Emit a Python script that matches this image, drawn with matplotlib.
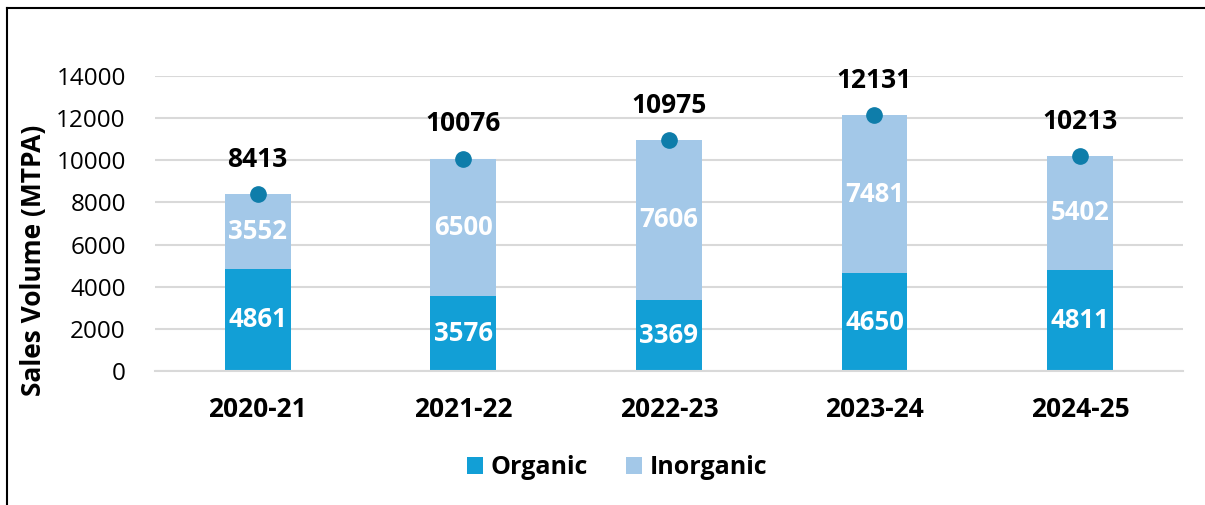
import numpy as np
import matplotlib
matplotlib.use('Agg')
import matplotlib.pyplot as plt
from matplotlib.lines import Line2D

years = ['2020-21', '2021-22', '2022-23', '2023-24', '2024-25']
organic = [4861, 3576, 3369, 4650, 4811]
inorganic = [3552, 6500, 7606, 7481, 5402]
totals = [8413, 10076, 10975, 12131, 10213]
yticks = [0, 2000, 4000, 6000, 8000, 10000, 12000, 14000]

plt.rcParams['font.family'] = ['Open Sans', 'DejaVu Sans']

c_org = '#129FD6'
c_inorg = '#A3C8E8'
c_dot = '#0E7DAA'

fig = plt.figure(figsize=(12.05, 5.05), dpi=100)
ax = fig.add_axes([0.1286, 0.2653, 0.853, 0.5842])

x = np.arange(len(years))
w = 0.32
b1 = ax.bar(x, organic, w, color=c_org, label='Organic', zorder=2)
b2 = ax.bar(x, inorganic, w, bottom=organic, color=c_inorg, label='Inorganic', zorder=2)
ax.bar_label(b1, labels=[str(v) for v in organic], label_type='center',
             color='white', fontsize=18.5, fontweight='bold')
ax.bar_label(b2, labels=[str(v) for v in inorganic], label_type='center',
             color='white', fontsize=18.5, fontweight='bold')

ax.plot(x, totals, 'o', color=c_dot, markersize=11, zorder=3)
for xi, t in zip(x, totals):
    ax.annotate(str(t), (xi, t), xytext=(0, 25), textcoords='offset points',
                ha='center', va='center', fontsize=19, fontweight='bold')

ax.set_xlim(-0.5, len(years) - 0.5)
ax.set_ylim(0, 14000)
ax.set_yticks(yticks)
ax.set_yticklabels([str(v) for v in yticks], fontsize=17.5)
ax.set_xticks(x)
ax.set_xticklabels(years, fontsize=19, fontweight='bold')
ax.tick_params(axis='both', length=0)
ax.tick_params(axis='y', pad=21)
ax.tick_params(axis='x', pad=18)
ax.grid(axis='y', color='#D9D9D9', linewidth=1.5, zorder=0)
for s in ['top', 'right', 'left']:
    ax.spines[s].set_visible(False)
ax.spines['bottom'].set_color('#D9D9D9')
ax.spines['bottom'].set_linewidth(1.5)
ax.set_ylabel('Sales Volume (MTPA)', fontsize=19, fontweight='bold')
ax.yaxis.set_label_coords(-0.105, 0.376)

fig.legend(handles=[b1, b2], loc='center', bbox_to_anchor=(617 / 1205, 1 - 468 / 505),
           ncol=2, frameon=False, prop={'size': 18, 'weight': 'bold'},
           handlelength=0.65, handleheight=0.65, handletextpad=0.3, columnspacing=1.5)

# chart border (left and top visible)
fig.add_artist(Line2D([7 / 1205, 7 / 1205], [0, 1 - 8 / 505], color='black', linewidth=1.5))
fig.add_artist(Line2D([7 / 1205, 1], [1 - 8 / 505, 1 - 8 / 505], color='black', linewidth=1.5))

fig.savefig('out.png', dpi=100)
